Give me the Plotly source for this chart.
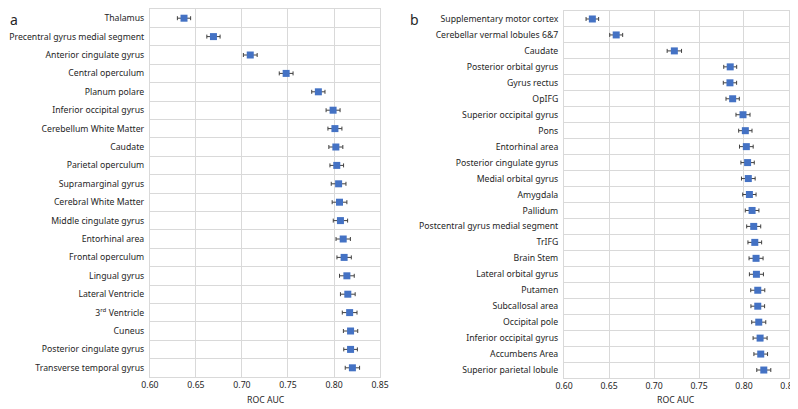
import plotly.graph_objects as go

left_regions = ['Thalamus', 'Precentral gyrus medial segment', 'Anterior cingulate gyrus',
                'Central operculum', 'Planum polare', 'Inferior occipital gyrus',
                'Cerebellum White Matter', 'Caudate', 'Parietal operculum', 'Supramarginal gyrus',
                'Cerebral White Matter', 'Middle cingulate gyrus', 'Entorhinal area',
                'Frontal operculum', 'Lingual gyrus', 'Lateral Ventricle', '3<sup>rd</sup> Ventricle',
                'Cuneus', 'Posterior cingulate gyrus', 'Transverse temporal gyrus']
left_auc = [0.637, 0.669, 0.709, 0.748, 0.783, 0.799, 0.801, 0.802, 0.803, 0.805,
            0.806, 0.807, 0.810, 0.811, 0.814, 0.815, 0.817, 0.818, 0.818, 0.820]
left_err = [0.0072, 0.0072, 0.0075, 0.0075, 0.0072, 0.0076, 0.0076, 0.0076, 0.0074, 0.0080,
            0.0080, 0.0078, 0.0078, 0.0078, 0.0080, 0.0080, 0.0080, 0.0078, 0.0074, 0.0078]

right_regions = ['Supplementary motor cortex', 'Cerebellar vermal lobules 6&7', 'Caudate',
                 'Posterior orbital gyrus', 'Gyrus rectus', 'OpIFG', 'Superior occipital gyrus',
                 'Pons', 'Entorhinal area', 'Posterior cingulate gyrus', 'Medial orbital gyrus',
                 'Amygdala', 'Pallidum', 'Postcentral gyrus medial segment', 'TrIFG', 'Brain Stem',
                 'Lateral orbital gyrus', 'Putamen', 'Subcallosal area', 'Occipital pole',
                 'Inferior occipital gyrus', 'Accumbens Area', 'Superior parietal lobule']
right_auc = [0.6315, 0.658, 0.7226, 0.7847, 0.7844, 0.7874, 0.7989, 0.8015, 0.8026, 0.804,
             0.8048, 0.806, 0.809, 0.8108, 0.812, 0.8134, 0.8138, 0.8153, 0.8153, 0.8164,
             0.8179, 0.8186, 0.822]
right_err = [0.0070, 0.0072, 0.0080, 0.0072, 0.0074, 0.0074, 0.0078, 0.0074, 0.0076, 0.0074,
             0.0076, 0.0074, 0.0076, 0.0078, 0.0076, 0.0078, 0.0078, 0.0078, 0.0076, 0.0078,
             0.0078, 0.0076, 0.0078]

x_ticks = [0.60, 0.65, 0.70, 0.75, 0.80, 0.85]

blue = '#4472c4'
grey_line = '#404040'
grid = '#d9d9d9'
font = dict(family='Noto Sans', size=8.7, color='#262626')

fig = go.Figure()
fig.add_trace(go.Scatter(x=left_auc, y=left_regions, mode='markers',
                         marker=dict(symbol='square', size=7, color=blue),
                         error_x=dict(type='data', array=left_err, color=grey_line,
                                      thickness=1, width=2),
                         xaxis='x', yaxis='y', showlegend=False))
fig.add_trace(go.Scatter(x=right_auc, y=right_regions, mode='markers',
                         marker=dict(symbol='square', size=7, color=blue),
                         error_x=dict(type='data', array=right_err, color=grey_line,
                                      thickness=1, width=2),
                         xaxis='x2', yaxis='y2', showlegend=False))

xstyle = dict(range=[0.60, 0.85], tickvals=x_ticks, tickformat='.2f',
              showgrid=True, gridcolor=grid, gridwidth=1, zeroline=False,
              showline=True, linecolor=grid, mirror=True, ticks='',
              tickfont=font, automargin=False, ticklabeloverflow='allow')
ystyle = dict(type='category', tickson='boundaries',
              showgrid=True, gridcolor=grid, gridwidth=1,
              showline=True, linecolor=grid, mirror=True, ticks='',
              tickfont=font, ticklabelstandoff=3, automargin=False)

letter_font = dict(family='Noto Sans', size=14, color='#262626')

# page body has an 8px margin, so the figure is 790x401
fig.update_layout(
    width=790, height=401,
    margin=dict(l=0, r=0, t=0, b=0),
    paper_bgcolor='white', plot_bgcolor='white',
    font=font,
    xaxis=dict(domain=[0.1797, 0.4709], anchor='y', **xstyle),
    yaxis=dict(domain=[0.0798, 0.9975], anchor='x',
               range=[len(left_regions) - 0.5, -0.5], **ystyle),
    xaxis2=dict(domain=[0.7038, 0.9886], anchor='y2', **xstyle),
    yaxis2=dict(domain=[0.0773, 0.9925], anchor='x2',
                range=[len(right_regions) - 0.5, -0.5], **ystyle),
    annotations=[
        dict(text='a', x=0.0, y=1.0, xref='paper', yref='paper', showarrow=False,
             xanchor='left', yanchor='top', font=letter_font),
        dict(text='b', x=0.506, y=1.0, xref='paper', yref='paper', showarrow=False,
             xanchor='left', yanchor='top', font=letter_font),
        dict(text='ROC AUC', x=0.3266, y=0.0224, xref='paper', yref='paper', showarrow=False,
             xanchor='center', yanchor='middle', font=font),
        dict(text='ROC AUC', x=0.8456, y=0.0224, xref='paper', yref='paper', showarrow=False,
             xanchor='center', yanchor='middle', font=font),
    ],
)

fig.write_html("out.html")
